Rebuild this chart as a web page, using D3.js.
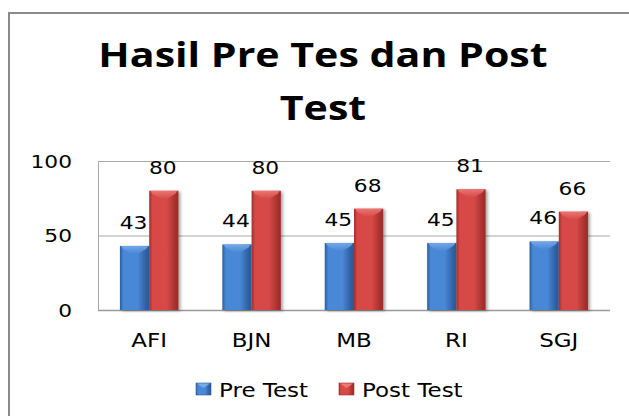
<!DOCTYPE html>
<html><head><meta charset="utf-8">
<script src="https://cdn.jsdelivr.net/npm/d3@7/dist/d3.min.js"></script>
<style>html,body{margin:0;padding:0;background:#fff;}svg{display:block;}</style>
</head><body>
<script>
const categories = ["AFI", "BJN", "MB", "RI", "SGJ"];
const seriesNames = ["Pre Test", "Post Test"];
const preTest = [43, 44, 45, 45, 46];
const postTest = [80, 80, 68, 81, 66];
const yTicks = [0, 50, 100];
const titleLines = ["Hasil Pre Tes dan Post", "Test"];

const W = 629, H = 416, SX = 1.21;
const colors = {
  "Pre Test": {dark: "#2c5c9e", mid: "#4a88d6", bevel: "#78aaea"},
  "Post Test": {dark: "#a22e2c", mid: "#d64a47", bevel: "#ee7a76"}
};
const svg = d3.select("body").append("svg").attr("width", W).attr("height", H);
const defs = svg.append("defs");
const f = defs.append("filter").attr("id","sh").attr("x","-30%").attr("y","-10%").attr("width","160%").attr("height","130%");
f.append("feDropShadow").attr("dx",2).attr("dy",1).attr("stdDeviation",1.6).attr("flood-color","#000").attr("flood-opacity",0.35);
seriesNames.forEach((s,i)=>{
  const g = defs.append("linearGradient").attr("id","g"+i).attr("x1","0").attr("x2","1").attr("y1","0").attr("y2","0");
  g.append("stop").attr("offset","0").attr("stop-color",colors[s].dark);
  g.append("stop").attr("offset","0.12").attr("stop-color",colors[s].mid);
  g.append("stop").attr("offset","0.6").attr("stop-color",colors[s].mid);
  g.append("stop").attr("offset","0.92").attr("stop-color",colors[s].dark);
  g.append("stop").attr("offset","1").attr("stop-color",colors[s].dark);
  const gb = defs.append("linearGradient").attr("id","b"+i).attr("x1","0").attr("x2","0").attr("y1","0").attr("y2","1");
  gb.append("stop").attr("offset","0").attr("stop-color",colors[s].bevel);
  gb.append("stop").attr("offset","1").attr("stop-color",colors[s].mid);
});

// outer border
svg.append("rect").attr("x",9).attr("y",13).attr("width",660).attr("height",440)
  .attr("fill","none").attr("stroke","#8a8a8a").attr("stroke-width",2);

function stretchedText(parent, x, y, txt, opts) {
  const g = parent.append("g").attr("transform", `translate(${x},${y}) scale(${SX},1)`);
  const t = g.append("text").attr("x",0).attr("y",0).text(txt)
    .attr("font-family", opts.family || "DejaVu Sans")
    .attr("font-size", opts.size || 18)
    .attr("font-weight", opts.weight || "normal")
    .attr("text-anchor", opts.anchor || "middle")
    .attr("fill", opts.fill || "#000");
  return t;
}

// title
titleLines.forEach((l,i)=>{
  stretchedText(svg, 323, 67 + i*53, l, {family:"Open Sans", size:34, weight:"bold"});
});

const x0 = d3.scaleBand().domain(categories).range([98, 610]).paddingInner(1.5/3.5).paddingOuter(0.75/3.5);
const x1 = d3.scaleBand().domain(seriesNames).range([0, x0.bandwidth()]);
const y = d3.scaleLinear().domain([0,100]).range([310,161]);

// gridlines
svg.append("g").selectAll("line").data(yTicks).join("line")
  .attr("x1",98).attr("x2",610).attr("y1",d=>y(d)+0.5).attr("y2",d=>y(d)+0.5)
  .attr("stroke", d=> d===0 ? "#9a9a9a" : "#a8a8a8").attr("stroke-width", d=> d===0?1.6:1);
// side wall line
svg.append("line").attr("x1",98.5).attr("x2",98.5).attr("y1",y(100)).attr("y2",y(0))
  .attr("stroke","#a8a8a8").attr("stroke-width",1);

// y tick labels
yTicks.forEach(t=>{
  stretchedText(svg, 72, y(t)+6.5, String(t), {anchor:"end", size:18});
});

// bars
const seriesData = [preTest, postTest];
seriesNames.forEach((s,si)=>{
  const g = svg.append("g");
  const bars = g.selectAll("g").data(categories.map((c,ci)=>({c, v: seriesData[si][ci]}))).join("g");
  bars.each(function(d){
    const bx = x0(d.c) + x1(s), bw = x1.bandwidth(), top = y(d.v), bot = y(0);
    const bg = d3.select(this);
    bg.append("rect").attr("x",bx).attr("y",top).attr("width",bw).attr("height",bot-top)
      .attr("fill",`url(#g${si})`).attr("filter","url(#sh)");
    bg.append("polygon").attr("points",
      [[bx+1,top],[bx+bw-1,top],[bx+bw-3,top+3],[bx+bw/2+3,top+8],[bx+bw/2-3,top+8],[bx+3,top+3]].map(p=>p.join(",")).join(" "))
      .attr("fill",`url(#b${si})`).attr("opacity",0.9);
  });
});
// data labels
seriesNames.forEach((s,si)=>{
  categories.forEach((c,ci)=>{
    const v = seriesData[si][ci];
    stretchedText(svg, x0(c)+x1(s)+x1.bandwidth()/2 - 1, y(v)-17, String(v), {size:18});
  });
});

// category labels
categories.forEach(c=>{
  stretchedText(svg, x0(c)+x0.bandwidth()/2, 347, c, {size:19});
});

// legend
const legendX = [196, 339];
seriesNames.forEach((s,i)=>{
  svg.append("rect").attr("x",legendX[i]).attr("y",383).attr("width",15).attr("height",12)
    .attr("fill",`url(#g${i})`).attr("stroke",colors[s].dark).attr("stroke-width",0.6);
  svg.append("polygon").attr("points",
    [[legendX[i]+1,383.5],[legendX[i]+14,383.5],[legendX[i]+7.5,388]].map(p=>p.join(",")).join(" "))
    .attr("fill",colors[s].bevel);
  stretchedText(svg, legendX[i]+23, 397, s, {anchor:"start", size:19});
});
</script>
</body></html>
